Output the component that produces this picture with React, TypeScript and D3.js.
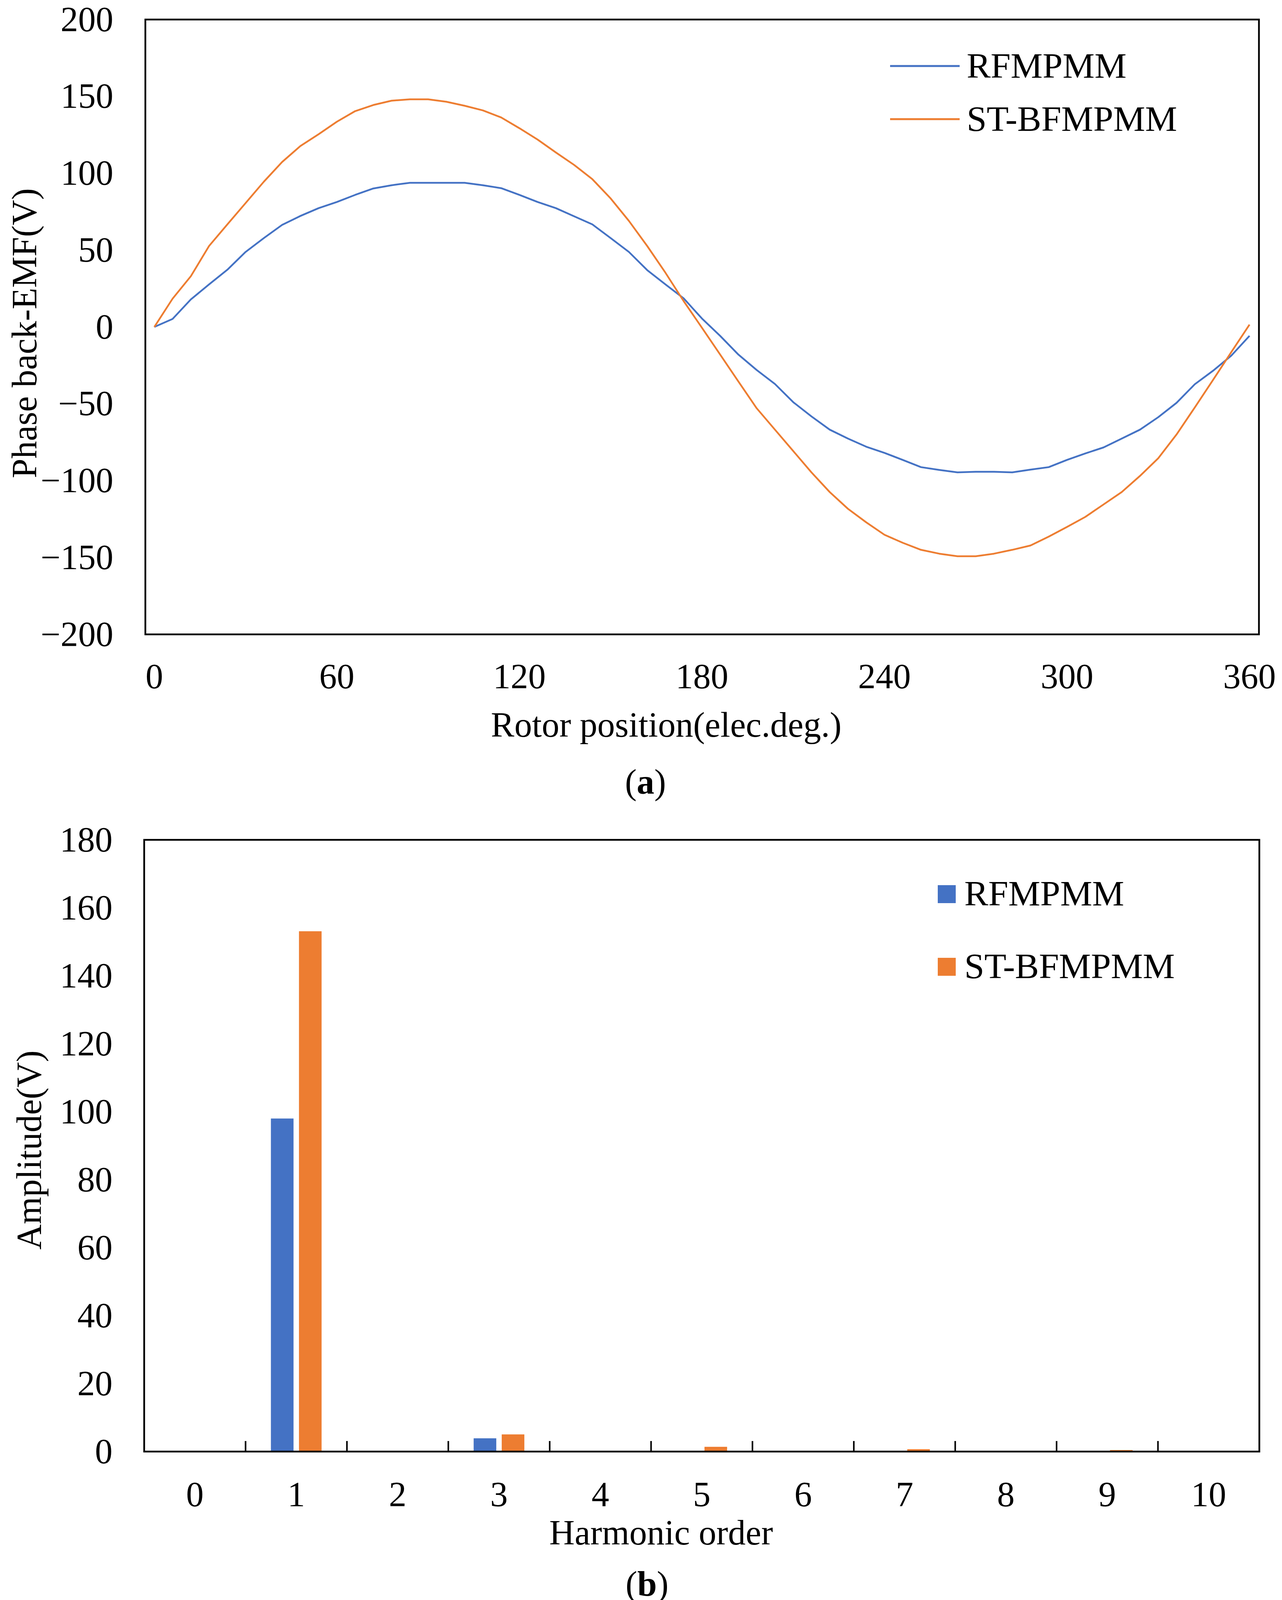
import * as d3 from 'd3';

// (a) phase back-EMF, every 6 elec. degrees
const rotorAngle = [
  0, 6, 12, 18, 24, 30, 36, 42, 48, 54, 60, 66, 72, 78, 84, 90, 96, 102, 108, 114,
  120, 126, 132, 138, 144, 150, 156, 162, 168, 174, 180, 186, 192, 198, 204, 210,
  216, 222, 228, 234, 240, 246, 252, 258, 264, 270, 276, 282, 288, 294, 300, 306,
  312, 318, 324, 330, 336, 342, 348, 354, 360,
];
const rfmpmmEmf = [
  0, 5.2, 17.9, 27.7, 37.2, 48.8, 57.8, 66.4, 72.2, 77.3, 81.3, 85.9, 90.1, 92.2, 93.8,
  93.8, 93.8, 93.8, 92.2, 90.3, 85.9, 81.3, 77.3, 72.0, 66.7, 57.8, 48.8, 37.0, 27.7, 18.6,
  5.5, -5.8, -18.0, -28.0, -37.1, -48.9, -58.2, -66.8, -72.6, -77.9, -81.9, -86.5, -91.2,
  -93.0, -94.6, -94.2, -94.2, -94.6, -92.8, -91.2, -86.5, -82.3, -78.4, -72.6, -66.8,
  -58.7, -49.4, -37.3, -28.5, -18.7, -5.8,
];
const stbfmpmmEmf = [
  0, 18.4, 33.0, 52.7, 66.7, 80.6, 94.5, 107.3, 117.7, 125.4, 133.5, 140.4, 144.4, 147.2,
  148.1, 148.1, 146.5, 143.9, 140.9, 136.3, 129.3, 121.9, 113.5, 105.4, 96.1, 83.6, 69.0,
  52.7, 35.3, 16.8, -0.5, -18.0, -35.5, -52.9, -66.8, -80.7, -94.6, -107.4, -118.3, -127.1,
  -135.2, -140.4, -145.0, -147.5, -149.2, -149.2, -147.5, -145.0, -142.2, -136.4, -130.1,
  -123.6, -115.5, -107.4, -96.9, -85.4, -70.0, -52.4, -34.5, -16.4, 1.5,
];
const emfTicksX = [0, 60, 120, 180, 240, 300, 360];
const emfTicksY = [200, 150, 100, 50, 0, -50, -100, -150, -200];

// (b) harmonic spectrum
const harmonicOrder = ['0', '1', '2', '3', '4', '5', '6', '7', '8', '9', '10'];
const rfmpmmAmp = [0, 98.0, 0, 3.9, 0, 0, 0, 0, 0, 0, 0];
const stbfmpmmAmp = [0, 153.1, 0, 5.05, 0, 1.4, 0, 0.7, 0, 0.45, 0];
const ampTicksY = [0, 20, 40, 60, 80, 100, 120, 140, 160, 180];

const seriesNames = ['RFMPMM', 'ST-BFMPMM'];
const BLUE = '#4472C4';
const ORANGE = '#ED7D31';
const FONT = '"Liberation Serif", "Times New Roman", serif';

const fmt = (v: number) => (v < 0 ? '\u2212' + Math.abs(v) : String(v));

function PanelA() {
  const x = d3.scaleLinear().domain([-2.95, 363.1]).range([372, 3222]);
  const y = d3.scaleLinear().domain([-200, 200]).range([1624, 50]);
  const line = d3
    .line<number>()
    .x((_, i) => x(rotorAngle[i]))
    .y((d) => y(d));

  const series = [
    { name: seriesNames[0], values: rfmpmmEmf, color: BLUE },
    { name: seriesNames[1], values: stbfmpmmEmf, color: ORANGE },
  ];

  return (
    <g fontFamily={FONT} fill="#000">
      {series.map((s) => (
        <path key={s.name} d={line(s.values) || ''} fill="none" stroke={s.color} strokeWidth={4.5} strokeLinejoin="round" />
      ))}
      <rect x={372} y={50} width={2850} height={1574} fill="none" stroke="#000" strokeWidth={4.5} />

      {emfTicksY.map((t) => (
        <text key={t} x={290} y={y(t)} dy="0.33em" textAnchor="end" fontSize={90}>
          {fmt(t)}
        </text>
      ))}
      {emfTicksX.map((t) => (
        <text key={t} x={x(t)} y={1762} textAnchor="middle" fontSize={90}>
          {t}
        </text>
      ))}

      <text x={1705} y={1886} textAnchor="middle" fontSize={90}>
        Rotor position(elec.deg.)
      </text>
      <text transform="translate(93,853) rotate(-90)" textAnchor="middle" fontSize={90}>
        Phase back-EMF(V)
      </text>

      {series.map((s, i) => (
        <g key={s.name}>
          <line x1={2278} x2={2456} y1={169 + i * 136} y2={169 + i * 136} stroke={s.color} strokeWidth={5} />
          <text x={2474} y={199 + i * 136} fontSize={92}>
            {s.name}
          </text>
        </g>
      ))}

      <text x={1652} y={2032} textAnchor="middle" fontSize={90}>
        (<tspan fontWeight="bold">a</tspan>)
      </text>
    </g>
  );
}

function PanelB() {
  const x = d3.scaleBand<string>().domain(harmonicOrder).range([369, 3223]).padding(0);
  const bw = x.bandwidth();
  const xs = d3.scaleBand<string>().domain(seriesNames).range([bw * 0.25, bw * 0.75]).paddingInner(0.194);
  const y = d3.scaleLinear().domain([0, 180]).range([3716, 2150]);

  const series = [
    { name: seriesNames[0], values: rfmpmmAmp, color: BLUE },
    { name: seriesNames[1], values: stbfmpmmAmp, color: ORANGE },
  ];

  return (
    <g fontFamily={FONT} fill="#000">
      {series.map((s) =>
        s.values.map((v, i) => (
          <rect
            key={s.name + i}
            x={(x(harmonicOrder[i]) || 0) + (xs(s.name) || 0)}
            y={y(v)}
            width={xs.bandwidth()}
            height={y(0) - y(v)}
            fill={s.color}
          />
        ))
      )}

      {harmonicOrder.slice(1).map((h) => (
        <line key={h} x1={x(h)} x2={x(h)} y1={y(0)} y2={y(0) - 27} stroke="#000" strokeWidth={4} />
      ))}
      <rect x={369} y={2150} width={2854} height={1566} fill="none" stroke="#000" strokeWidth={4.5} />

      {ampTicksY.map((t) => (
        <text key={t} x={288} y={y(t)} dy="0.33em" textAnchor="end" fontSize={90}>
          {t}
        </text>
      ))}
      {harmonicOrder.map((h) => (
        <text key={h} x={(x(h) || 0) + bw / 2} y={3856} textAnchor="middle" fontSize={90}>
          {h}
        </text>
      ))}

      <text x={1692} y={3954} textAnchor="middle" fontSize={90}>
        Harmonic order
      </text>
      <text transform="translate(105,2944) rotate(-90)" textAnchor="middle" fontSize={90}>
        Amplitude(V)
      </text>

      {series.map((s, i) => (
        <g key={s.name}>
          <rect x={2400} y={2266 + i * 186} width={46} height={46} fill={s.color} />
          <text x={2468} y={2318 + i * 186} fontSize={92}>
            {s.name}
          </text>
        </g>
      ))}

      <text x={1656} y={4085} textAnchor="middle" fontSize={90}>
        (<tspan fontWeight="bold">b</tspan>)
      </text>
    </g>
  );
}

export default function App() {
  return (
    <svg
      width={3281}
      height={4121}
      viewBox="0 0 3281 4121"
      style={{ position: 'absolute', left: 0, top: 0, background: '#fff' }}
    >
      <rect x={0} y={0} width={3281} height={4121} fill="#fff" />
      <PanelA />
      <PanelB />
    </svg>
  );
}
